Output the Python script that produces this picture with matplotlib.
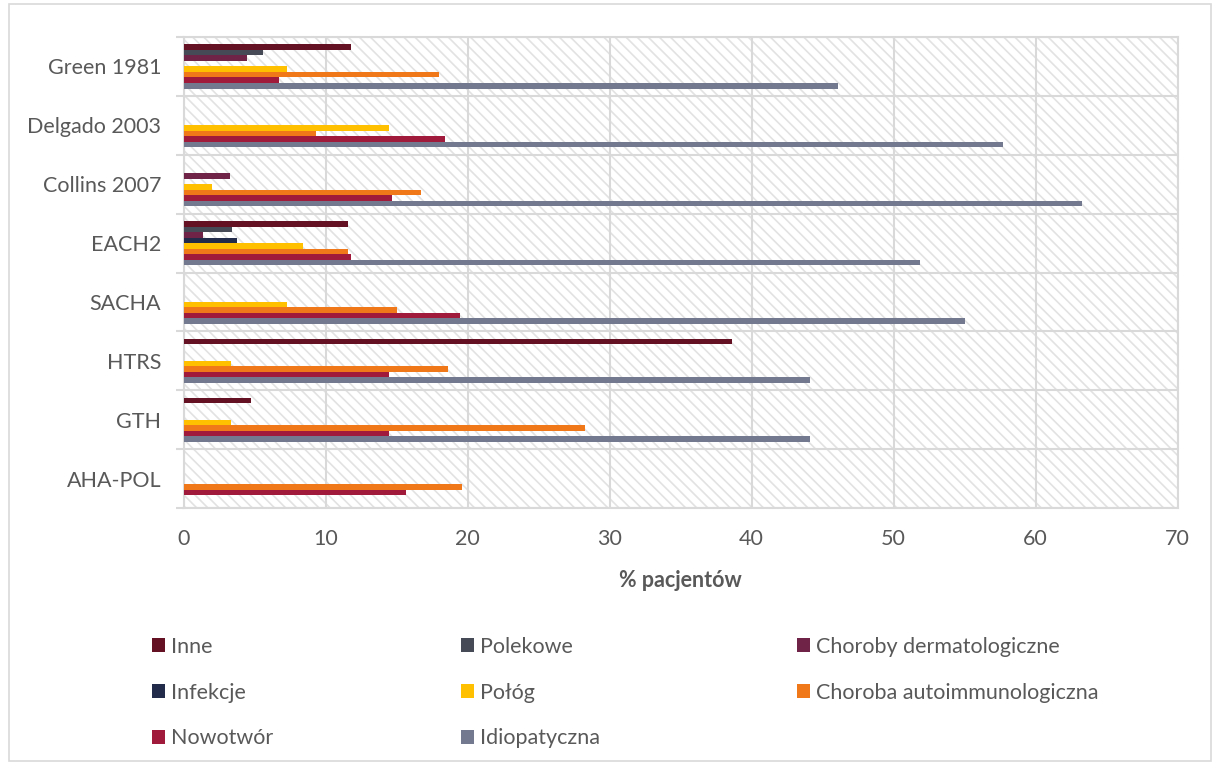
import numpy as np
import matplotlib.pyplot as plt
from matplotlib.patches import Rectangle, Patch

plt.rcParams['font.family'] = ['Lato', 'DejaVu Sans']
plt.rcParams['hatch.linewidth'] = 1.2

# data (% pacjentów)
categories = ["Green 1981", "Delgado 2003", "Collins 2007", "EACH2",
              "SACHA", "HTRS", "GTH", "AHA-POL"]
inne = [11.8, 0, 0, 11.6, 0, 38.6, 4.75, 0]
polekowe = [5.6, 0, 0, 3.4, 0, 0, 0, 0]
dermatologiczne = [4.5, 0, 3.3, 1.35, 0, 0, 0, 0]
infekcje = [0, 0, 0, 3.75, 0, 0, 0, 0]
polog = [7.3, 14.5, 2.0, 8.4, 7.3, 3.35, 3.35, 0]
autoimmuno = [18.0, 9.35, 16.7, 11.6, 15.0, 18.6, 28.3, 19.6]
nowotwor = [6.7, 18.4, 14.7, 11.8, 19.5, 14.5, 14.5, 15.7]
idiopatyczna = [46.1, 57.7, 63.3, 51.9, 55.0, 44.1, 44.1, 0]

series = [
    ("Inne", inne, "#641124"),
    ("Polekowe", polekowe, "#464a57"),
    ("Choroby dermatologiczne", dermatologiczne, "#6f2447"),
    ("Infekcje", infekcje, "#222b4a"),
    ("Połóg", polog, "#ffc000"),
    ("Choroba autoimmunologiczna", autoimmuno, "#f07818"),
    ("Nowotwór", nowotwor, "#a01b3b"),
    ("Idiopatyczna", idiopatyczna, "#737a90"),
]

txt = "#595959"
grid = "#d9d9d9"
fs = 15.5

fig = plt.figure(figsize=(12.14, 7.65), dpi=100)
ax = fig.add_axes([183.5 / 1214, 1 - 508 / 765, 994 / 1214, 471 / 765])

# hatched plot area
ax.patch.set_facecolor("white")
ax.patch.set_hatch("\\\\\\")
ax.patch.set_edgecolor("#e2e2e2")
ax.patch.set_linewidth(0)

y = np.arange(len(categories))
group = 0.75
h = group / len(series)
for j, (name, vals, col) in enumerate(series):
    pos = y - group / 2 + (j + 0.5) * h
    ax.barh(pos, vals, height=h, color=col, linewidth=0, zorder=3, label=name)

ax.set_xlim(0, 70)
ax.set_ylim(len(categories) - 0.5, -0.5)
ax.set_xticks(np.arange(0, 71, 10))
ax.set_yticks(y)
ax.set_yticklabels(categories)
ax.set_yticks(np.arange(-0.5, len(categories), 1), minor=True)

ax.grid(axis="x", which="major", color=grid, linewidth=1.5, zorder=1)
ax.grid(axis="y", which="minor", color=grid, linewidth=1.5, zorder=1)
ax.tick_params(axis="x", length=0, pad=15, labelsize=fs, labelcolor=txt)
ax.tick_params(axis="y", which="major", length=0, pad=16, labelsize=fs, labelcolor=txt)
ax.tick_params(axis="y", which="minor", length=6, width=1.5, color=grid)
for s in ax.spines.values():
    s.set_color(grid)
    s.set_linewidth(1.5)
ax.set_axisbelow(True)

ax.set_xlabel("% pacjentów", fontsize=fs, fontweight="bold", color=txt, labelpad=15)

# legend in three columns, row-wise order as in the original
handles = {name: Patch(facecolor=col) for name, _, col in series}
columns = [
    (["Inne", "Infekcje", "Nowotwór"], 141),
    (["Polekowe", "Połóg", "Idiopatyczna"], 450),
    (["Choroby dermatologiczne", "Choroba autoimmunologiczna"], 786),
]
for names, x0 in columns:
    leg = fig.legend([handles[n] for n in names], names, loc="upper left",
                     bbox_to_anchor=(x0 / 1214, 1 - 626 / 765), frameon=False,
                     fontsize=fs, handlelength=0.6, handleheight=0.6,
                     handletextpad=0.3, labelspacing=1.2, borderpad=0)
    for t in leg.get_texts():
        t.set_color(txt)

# chart area border
fig.add_artist(Rectangle((9 / 1214, 4 / 765), 1202 / 1214, 757 / 765,
                         transform=fig.transFigure, fill=False,
                         edgecolor=grid, linewidth=1.2))

fig.savefig("out.png", dpi=100)
